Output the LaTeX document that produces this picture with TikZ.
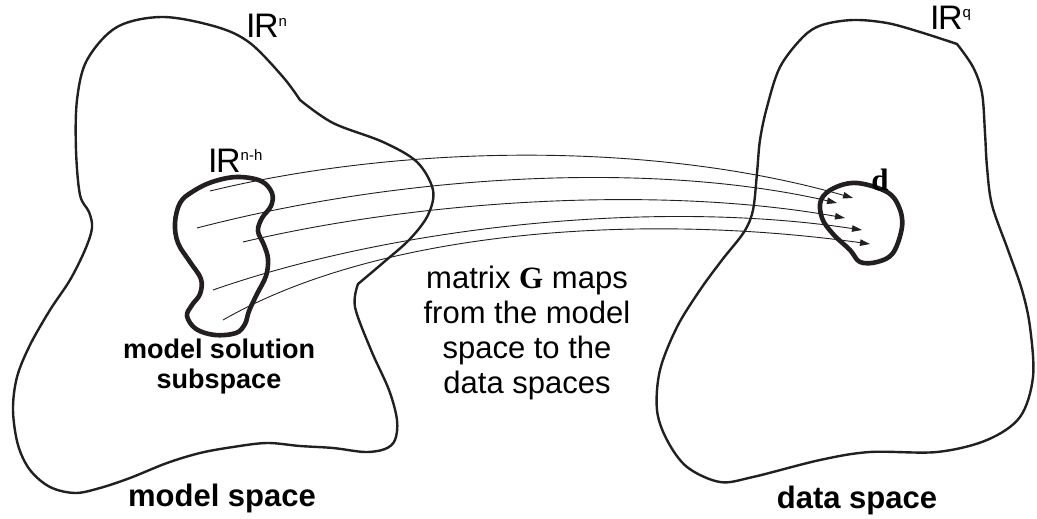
\documentclass[tikz,border=0pt]{standalone}
\usepackage{fontspec}
\setmainfont{Liberation Sans}
\newfontfamily\timesfam{Liberation Serif}
\usetikzlibrary{arrows.meta}
\definecolor{ink}{HTML}{231F20}
\tikzset{
  region/.style={draw=ink, line width=2.4pt, line join=round},
  subset/.style={draw=ink, line width=4.6pt, line join=round},
  mapline/.style={draw=ink, line width=0.9pt, -{Triangle[length=10pt,width=6.5pt]}},
  boldlabel/.style={inner sep=0pt, font=\fontsize{31}{36}\selectfont\bfseries},
  spacelabel/.style={inner sep=0pt, font=\fontsize{34}{36}\selectfont},
}
% Reals symbol drawn as an upright I beside an R, with a small exponent
\newcommand{\realsp}[1]{I\kern-1.5pt R\raisebox{12pt}{\fontsize{15}{15}\selectfont #1}}
\begin{document}
\begin{tikzpicture}[x=1pt,y=-1pt]
\useasboundingbox (0,0) rectangle (1037,519);

% model space outline: two smooth runs meeting at the neck and at the waist
\draw[region]
  plot[smooth, tension=0.55] coordinates {
    (300,100) (333,123) (383,142) (417,162) (433,190) (428,215)
    (410,239) (384,262) (358,284)}
  -- plot[smooth, tension=0.55] coordinates {
    (358,284) (355,307) (371,350) (389,390) (397,420) (395,440)
    (385,449) (365,452) (333,448) (300,446) (267,443) (233,447)
    (200,453) (167,463) (130,478) (100,488) (75,493) (50,487)
    (30,470) (18,445) (13,410) (17,377) (30,345) (50,310) (70,280)
    (85,250) (92,228) (89,212) (80,195) (76,150) (77,100) (87,60)
    (117,27) (163,17) (217,27) (250,43) (283,77) (300,100)}
  -- cycle;

% data space outline with its corner below the label
\draw[region]
  plot[smooth, tension=0.55] coordinates {
    (957,44) (973,67) (982,93) (985,133) (987,167) (992,205)
    (1008,250) (1022,290) (1030,327) (1033,377) (1020,417) (987,440)
    (937,452) (870,452) (820,460) (753,477) (720,482) (687,467)
    (667,440) (657,410) (660,370) (677,327) (700,290) (722,260)
    (744,232) (753,210) (757,173) (760,140) (767,107) (780,67)
    (803,37) (822,25) (853,20) (887,23) (920,32) (957,44)}
  -- cycle;

% model solution subspace
\draw[subset] plot[smooth cycle, tension=0.6] coordinates {
  (237,177) (261,181) (272,193) (271,206) (262,218) (258,231)
  (264,245) (268,259) (266,276) (257,294) (249,311) (245,324)
  (236,333) (215,335) (196,329) (187,316) (192,305) (200,294)
  (201,279) (190,262) (178,243) (175,223) (180,203) (192,192) (212,182)};

% data vector region
\draw[subset] plot[smooth cycle, tension=0.6] coordinates {
  (857,183) (887,192) (899,207) (902,227) (893,253) (877,262)
  (860,262) (850,250) (833,234) (822,218) (821,200) (834,188)};

% labels of the spaces
\node[spacelabel, anchor=base west] (rn) at (246,38) {\realsp{n}};
\node[spacelabel, anchor=base west] (rnh) at (208,172) {\realsp{n-h}};
\node[spacelabel, anchor=base west] (rq) at (930,30) {\realsp{q}};
\node[inner sep=0pt, anchor=base, font=\fontsize{31}{31}\selectfont\timesfam\bfseries] (dlab) at (880,190) {d};

\node[boldlabel] (msub) at (219,367)
  [font=\fontsize{27}{30}\selectfont\bfseries, align=center] {model solution\\subspace};
\node[boldlabel, anchor=base] (mspace) at (222,506) {model space};
\node[boldlabel, anchor=base] (dspace) at (857,508) {data space};

\node[inner sep=0pt, align=center, font=\fontsize{31}{35}\selectfont] (gtext) at (527,333)
  {matrix {\timesfam\bfseries G} maps\\from the model\\space to the\\data spaces};

% start and end points of the mapping arrows
\coordinate (s1) at (210,191); \coordinate (t1) at (853,198);
\coordinate (s2) at (197,228); \coordinate (t2) at (837,203);
\coordinate (s3) at (243,242); \coordinate (t3) at (845,218);
\coordinate (s4) at (213,290); \coordinate (t4) at (862,230);
\coordinate (s5) at (223,320); \coordinate (t5) at (870,244);

\draw[mapline] (s1) .. controls (400,145) and (650,140) .. (t1);
\draw[mapline] (s2) .. controls (400,175) and (650,160) .. (t2);
\draw[mapline] (s3) .. controls (420,200) and (660,185) .. (t3);
\draw[mapline] (s4) .. controls (390,228) and (650,198) .. (t4);
\draw[mapline] (s5) .. controls (380,230) and (640,212) .. (t5);
\end{tikzpicture}
\end{document}
